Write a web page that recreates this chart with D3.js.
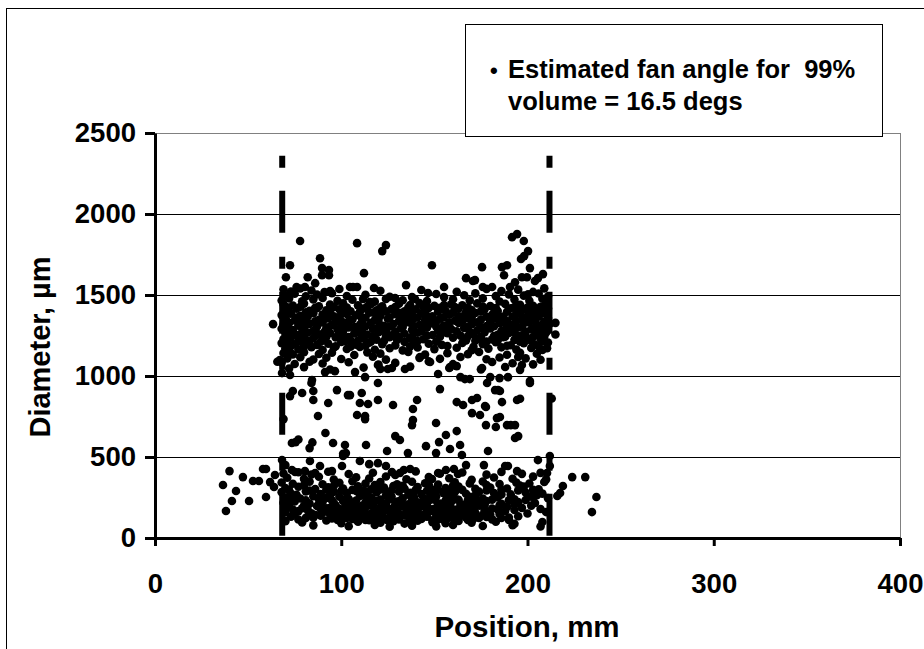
<!DOCTYPE html>
<html><head><meta charset="utf-8">
<script src="https://cdn.jsdelivr.net/npm/d3@7"></script>
<style>body{margin:0;background:#fff}svg{display:block}</style>
</head><body><svg id="c" width="924" height="649"></svg>
<script>
const xTicks=[0,100,200,300,400];
const yTicks=[0,500,1000,1500,2000,2500];
const xTitle="Position, mm";
const yTitle="Diameter, µm";
const legendLines=["Estimated fan angle for  99%","volume = 16.5 degs"];
const fanLimits=[68.3,211.8];
const fanLineTop=2360;

const highDrops=[[77.9,1833],[88.6,1727],[72.5,1684],[70.3,1610],[89.7,1666],[89.7,1622],[93.4,1654],[93.4,1622],[82,1610],[86,1573],[76,1549],[80.5,1549],[94,1524],[104.7,1549],
[108.5,1820],[124,1808],[122,1771],[148.7,1684],[112.2,1635],[167,1604],[170.7,1586],[106.3,1549],[108.5,1549],[117.6,1543],[134.8,1561],[155.2,1549],[146.6,1512],[155.2,1487],[155.2,1438],[111.7,1475],[115.4,1456],[128.9,1481],[138,1487],[139.6,1475],
[191.7,1857],[194.4,1876],[198,1833],[200.3,1771],[198.2,1740],[196.5,1722],[189,1684],[186.3,1672],[175.6,1672],[201.3,1666],[187.4,1622],[197,1610],[199.7,1610],[193.3,1579],[190.6,1549],[208.3,1629],[205.6,1604],[204,1586],[171.8,1592],[176,1549],[181,1549],[200.3,1505]];

const upperBand=[[69,1535],[73,1522],[78,1540],[84,1528],[91,1518],[99,1537],[121,1526],[143,1531],[162,1520],[178,1538],[186,1525],[195,1533],[203,1519],[209,1541],
[70,1497],[75,1508],[81,1492],[87,1503],[95,1511],[103,1494],[113,1502],[126,1489],[151,1506],[166,1498],[172,1510],[183,1493],[190,1504],[198,1496],[206,1509],[211,1490],
[68,1466],[72,1478],[79,1461],[85,1473],[90,1482],[98,1464],[106,1471],[118,1459],[124,1476],[133,1468],[146,1462],[160,1474],[169,1467],[176,1479],[185,1460],[193,1472],[201,1465],[208,1477],
[69,1443],[74,1435],[80,1447],[88,1431],[94,1441],[101,1449],[109,1436],[116,1444],[122,1430],[131,1446],[137,1438],[142,1450],[150,1433],[159,1442],[165,1437],[173,1448],[180,1432],[188,1445],[196,1439],[203,1434],[210,1446],
[71,1424],[78,1427],[86,1421],[96,1426],[103,1423],[114,1428],[121,1420],[129,1425],[136,1422],[144,1427],[153,1421],[161,1426],[168,1423],[176,1428],[183,1420],[193,1425],[200,1422],[207,1427],
[70,1408],[76,1415],[83,1402],[87,1419],[92,1405],[99,1412],[105,1400],[112,1417],[119,1406],[127,1414],[134,1399],[140,1411],[147,1420],[156,1403],[163,1416],[170,1407],[177,1413],[184,1401],[191,1418],[199,1409],[205,1404],[211,1416],
[72,1396],[81,1393],[94,1398],[101,1391],[110,1397],[117,1392],[124,1399],[131,1390],[138,1396],[145,1393],[152,1398],[160,1391],[167,1395],[175,1399],[182,1392],[189,1397],[196,1394],[203,1390],[209,1398],
[68,1376],[73,1385],[78,1372],[85,1388],[90,1379],[96,1369],[103,1383],[108,1375],[115,1390],[121,1371],[129,1382],[136,1377],[143,1386],[149,1368],[158,1380],[166,1373],[172,1389],[181,1378],[187,1367],[194,1384],[201,1374],[208,1387],
[70,1364],[76,1361],[82,1367],[92,1362],[99,1366],[111,1360],[119,1365],[126,1362],[133,1367],[141,1361],[147,1366],[155,1363],[163,1368],[170,1361],[178,1366],[185,1362],[192,1367],[199,1363],[206,1366],
[70,1352],[75,1343],[81,1358],[88,1347],[93,1355],[100,1341],[106,1349],[113,1360],[118,1344],[125,1353],[131,1340],[139,1357],[145,1346],[153,1354],[161,1342],[168,1359],[175,1348],[183,1356],[189,1339],[197,1351],[204,1345],[211,1358],
[71,1336],[79,1331],[86,1338],[97,1333],[104,1337],[111,1330],[120,1339],[133,1334],[137,1329],[151,1337],[158,1332],[165,1338],[173,1331],[180,1336],[187,1330],[194,1339],[201,1333],[209,1336],
[69,1318],[72,1327],[77,1311],[83,1322],[90,1330],[95,1314],[102,1325],[110,1316],[116,1329],[123,1310],[128,1321],[135,1332],[142,1315],[148,1324],[155,1312],[163,1328],[170,1319],[178,1308],[185,1326],[192,1317],[199,1331],[206,1313],[212,1323],
[71,1304],[79,1301],[87,1306],[93,1300],[100,1305],[107,1302],[113,1307],[120,1301],[126,1306],[133,1303],[139,1308],[145,1302],[151,1305],[158,1300],[168,1306],[175,1302],[182,1307],[190,1301],[197,1304],[204,1300],[210,1306],
[68,1292],[74,1284],[80,1297],[86,1281],[92,1295],[98,1287],[104,1299],[111,1283],[117,1291],[124,1279],[132,1294],[138,1286],[146,1298],[152,1280],[159,1290],[166,1296],[173,1282],[180,1293],[188,1285],[195,1300],[202,1288],[209,1283],
[73,1276],[79,1271],[85,1278],[91,1273],[101,1277],[108,1272],[121,1279],[129,1274],[143,1277],[155,1270],[162,1276],[169,1273],[186,1278],[193,1271],[199,1275],[207,1279],
[70,1262],[76,1254],[82,1268],[88,1257],[94,1265],[101,1250],[107,1263],[114,1256],[120,1270],[127,1252],[134,1261],[141,1267],[149,1253],[157,1264],[164,1249],[171,1259],[177,1271],[184,1255],[190,1266],[197,1251],[205,1260],[210,1269],
[72,1244],[80,1241],[86,1247],[92,1242],[98,1246],[104,1240],[111,1245],[117,1242],[124,1247],[131,1241],[138,1244],[146,1248],[153,1242],[168,1245],[175,1240],[182,1246],[188,1243],[195,1247],[203,1241],[209,1244],
[69,1228],[73,1236],[79,1221],[85,1233],[91,1225],[97,1238],[105,1219],[112,1231],[119,1224],[126,1239],[130,1222],[137,1234],[144,1227],[160,1237],[167,1220],[174,1232],[181,1226],[187,1240],[193,1223],[200,1235],[207,1229],
[71,1216],[77,1212],[83,1218],[89,1211],[102,1215],[109,1219],[116,1213],[123,1217],[134,1210],[141,1216],[151,1212],[172,1218],[178,1213],[184,1219],[196,1211],[202,1216],[209,1213],
[68,1203],[75,1195],[81,1208],[87,1191],[93,1200],[100,1210],[108,1193],[115,1205],[122,1197],[129,1189],[139,1206],[147,1199],[154,1192],[165,1204],[176,1196],[183,1209],[191,1190],[198,1202],[204,1194],[211,1207],
[73,1186],[80,1182],[97,1184],[105,1181],[113,1187],[137,1183],[157,1185],[171,1181],[189,1187],[206,1183],
[70,1172],[77,1164],[84,1178],[90,1160],[96,1175],[103,1167],[110,1180],[118,1162],[126,1171],[133,1158],[141,1176],[150,1166],[162,1174],[170,1159],[179,1169],[186,1177],[194,1163],[202,1173],[208,1161],
[69,1142],[74,1133],[80,1147],[88,1136],[95,1144],[107,1130],[114,1146],[121,1138],[136,1149],[145,1132],[157,1141],[168,1135],[174,1148],[189,1131],[196,1143],[205,1137],
[71,1108],[78,1116],[85,1102],[92,1113],[100,1105],[117,1119],[124,1101],[142,1112],[153,1106],[164,1117],[178,1103],[185,1114],[199,1109],[207,1100],
[68,1083],[75,1074],[83,1088],[90,1077],[104,1085],[120,1070],[129,1081],[147,1090],[160,1073],[181,1086],[192,1079],[203,1072],
[72,1046],[80,1055],[94,1040],[112,1052],[125,1043],[137,1058],[158,1049],[175,1041],[188,1056],[196,1038],
[67,1098],[72.5,1148],[68.2,1018],[72.5,1006],[84.3,975],[91.3,1024],[96.6,1030],[127.2,1049],[134.2,1043],[107.4,1024],[112.8,993],[119.7,1068],[121,1043],[152,1012],[164,993],[166.4,981],[169,981],[158.4,1055],[162,1061],[142.3,1117],[147.7,1086],[175.6,1049],[180,993],[185,987],[189.5,993],[201.3,969],[195,1117],[197,1068],[65.7,1088],[210.5,1172]];

const midScatter=[[74,907],[79,895],[72.5,876],[85,907],[85,852],[84,957],[93,833],[97.7,913],[103.6,882],[69,734],[87.5,753],[91.5,648],[73.5,586],[77,608],[75.5,592],[84.5,590],[83,555],[95.6,586],[102,574],[101,520],
[111,895],[110,833],[114.4,827],[119.7,852],[108.5,759],[112.8,753],[112.8,734],[104.7,882],[119.7,957],[127.8,821],[140.7,852],[138.5,796],[138.5,728],[138,697],[153,919],[162,839],[165.4,821],[170.2,852],[170.2,771],[150.9,710],[129,629],[131.5,605],[113.3,574],[124.6,537],[135.8,524],[145.5,567],[152.5,592],[150.9,524],[156.2,636],[158.4,549],[162,660],[163.8,574],[164.8,512],
[172.9,864],[174.5,759],[177.7,809],[186.3,839],[182.6,913],[184.2,913],[194.4,852],[196,860],[183.6,740],[185.2,747],[177.7,697],[183,685],[189,697],[191,697],[193.3,697],[193.3,617],[195,629],[201.3,957],[178.3,957],[185.2,907],[177.2,815],[178.8,537]];

const lowerBand=[[69,398],[77,406],[84,392],[93,409],[104,395],[117,403],[129,389],[140,411],[153,397],[165,404],[178,391],[186,408],[197,396],[207,402],
[71,372],[80,365],[88,378],[96,361],[108,374],[115,367],[124,380],[135,363],[147,376],[158,369],[170,359],[182,373],[192,366],[203,379],[210,362],
[68,343],[74,335],[83,348],[90,332],[99,341],[106,350],[113,336],[121,345],[130,331],[138,347],[145,338],[152,330],[161,344],[169,337],[176,349],[185,333],[194,342],[201,336],[209,346],
[80,326],[96,323],[118,327],[133,322],[147,328],[160,324],[178,327],[196,323],
[70,308],[77,316],[86,302],[93,313],[101,305],[109,319],[116,300],[123,311],[128,321],[134,304],[141,314],[149,299],[156,309],[163,318],[172,303],[180,312],[189,306],[198,317],[206,301],
[72,296],[83,293],[92,298],[100,292],[106,297],[112,294],[121,299],[127,293],[140,297],[146,292],[152,298],[158,294],[165,297],[178,293],[186,298],[195,294],[203,297],
[68,283],[73,275],[81,288],[89,272],[96,285],[103,277],[108,290],[114,270],[119,282],[125,274],[131,287],[137,279],[143,271],[149,289],[155,276],[161,284],[167,273],[174,286],[182,278],[191,269],[199,281],[208,274],
[76,266],[94,262],[112,268],[124,263],[136,267],[148,262],[160,266],[172,263],[186,268],[205,264],
[71,252],[78,244],[85,258],[92,247],[99,255],[104,241],[110,259],[116,249],[121,238],[127,256],[133,245],[139,253],[145,240],[151,257],[157,248],[163,236],[169,254],[176,243],[184,251],[193,239],[202,255],[211,246],
[73,236],[81,232],[88,238],[95,233],[102,237],[108,231],[114,236],[120,230],[126,239],[132,233],[138,237],[144,231],[150,236],[156,232],[162,238],[168,234],[174,230],[181,237],[190,233],[199,235],
[69,218],[75,226],[83,212],[90,224],[96,215],[101,229],[107,210],[113,221],[118,231],[124,214],[130,225],[136,208],[141,220],[147,230],[153,213],[159,223],[165,207],[171,219],[178,228],[186,211],[195,222],[204,216],
[71,204],[80,200],[89,207],[97,202],[103,206],[111,199],[117,205],[123,201],[129,207],[135,200],[140,204],[146,198],[152,206],[158,201],[164,205],[170,199],[177,204],[185,202],[193,207],[202,200],
[72,193],[79,184],[87,198],[94,187],[99,180],[105,195],[110,183],[116,199],[121,188],[127,178],[133,194],[138,185],[144,197],[150,181],[156,191],[162,176],[168,189],[174,200],[181,182],[189,192],[197,186],[207,179],
[92,184],[102,186],[113,189],[125,185],[136,188],[147,184],[159,187],[171,185],
[74,176],[82,172],[89,178],[96,170],[102,175],[107,171],[112,177],[118,173],[124,179],[130,171],[135,176],[141,172],[147,178],[153,170],[159,175],[165,172],[171,177],[177,171],[184,176],[193,173],
[70,158],[77,166],[84,152],[91,163],[97,149],[103,168],[108,155],[114,146],[119,161],[125,170],[131,150],[136,159],[142,144],[148,165],[154,153],[160,148],[166,162],[172,156],[180,145],[188,167],[200,151],[210,160],
[75,146],[86,142],[94,148],[100,143],[105,146],[111,141],[116,149],[122,143],[128,147],[133,140],[139,145],[145,149],[151,142],[157,146],[163,140],[169,147],[176,143],[185,148],
[73,132],[81,124],[89,137],[95,121],[101,135],[106,118],[112,129],[117,140],[123,116],[129,127],[135,138],[140,120],[146,131],[152,114],[158,126],[164,136],[171,119],[178,130],[186,123],[195,134],
[85,126],[103,123],[109,128],[115,124],[126,129],[138,125],[143,122],[155,128],[161,123],[167,127],[174,124],[190,127],
[77,114],[98,112],[107,117],[113,111],[119,116],[125,110],[131,115],[137,112],[143,117],[149,110],[155,114],[161,118],[168,111],[181,115],[190,112],
[70,104],[79,96],[92,108],[100,92],[109,101],[115,110],[121,94],[128,103],[134,89],[141,107],[149,97],[156,91],[163,105],[170,95],[183,100],[193,88],[208,99],
[85,78],[104,73],[118,80],[126,70],[138,76],[151,72],[160,81],[176,74],[192,79],[207,71],
[110,475],[115,456],[119.7,462],[124,444],[127.2,407],[131.5,401],[133.6,420],[137,426],[148.7,364],[152,401],[156.2,420],[160.5,426],[162.7,395],[167,450],[176.6,450],[188,444],[189.5,444],[194.4,413],[205.6,481],[212,506],[212,444],[210.5,401],[68.2,481],[70,450],[73.5,420],[75.2,407],[80.5,413],[86,401],[88.6,444],[83.2,475],[95,413],[100.4,444],[101,506],[102.5,524]];

const outsideLeft=[[40,413],[36.5,327],[43.5,290],[41.3,228],[38.1,167],[47.2,376],[52.6,352],[55.8,352],[58,426],[59.6,426],[50.5,228],[59.6,253],[61.8,345],[63.9,315],[64.4,389],[63.4,1320]];
const outsideRight=[[224,376],[231,376],[237,253],[234.6,160],[219,321],[217.5,278],[216,259],[213,861],[215,1328],[215,1256]];

const svg=d3.select("#c");
const FONT='"Liberation Sans", Arial, sans-serif';
const x=d3.scaleLinear().domain([0,400]).range([155,900]);
const y=d3.scaleLinear().domain([0,2500]).range([538,133]);

svg.append("rect").attr("x",6.5).attr("y",8.5).attr("width",940).attr("height",660)
  .attr("fill","none").attr("stroke","#000").attr("stroke-width",1);

svg.append("g").selectAll("line").data(yTicks.filter(t=>t>0)).join("line")
  .attr("x1",x(0)).attr("x2",x(400)).attr("y1",d=>Math.round(y(d))+0.5).attr("y2",d=>Math.round(y(d))+0.5)
  .attr("stroke",d=>d===2500?"#808080":"#000").attr("stroke-width",1);
svg.append("line").attr("x1",x(400)+0.5).attr("x2",x(400)+0.5).attr("y1",y(2500)).attr("y2",y(0))
  .attr("stroke","#808080").attr("stroke-width",1);

const allDrops=[].concat(highDrops,upperBand,midScatter,lowerBand,outsideLeft,outsideRight);
svg.append("g").selectAll("circle").data(allDrops).join("circle")
  .attr("cx",d=>x(d[0])).attr("cy",d=>y(d[1])).attr("r",4.3).attr("fill","#000");

svg.append("g").selectAll("line").data(fanLimits).join("line")
  .attr("x1",d=>x(d)).attr("x2",d=>x(d)).attr("y1",y(fanLineTop)).attr("y2",y(0))
  .attr("stroke","#000").attr("stroke-width",6).attr("stroke-dasharray","12,23,42,24");

const yAxis=svg.append("g").attr("transform",`translate(${x(0)},0)`)
  .call(d3.axisLeft(y).tickValues(yTicks).tickSize(10).tickSizeOuter(0).tickPadding(9).tickFormat(d3.format("d")));
const xAxis=svg.append("g").attr("transform",`translate(0,${y(0)})`)
  .call(d3.axisBottom(x).tickValues(xTicks).tickSize(8).tickSizeOuter(0).tickPadding(27).tickFormat(d3.format("d")));
[yAxis,xAxis].forEach(a=>{
  a.select(".domain").attr("stroke","#000").attr("stroke-width",3);
  a.selectAll(".tick line").attr("stroke","#000").attr("stroke-width",3);
  a.selectAll(".tick text").attr("fill","#000").attr("font-family",FONT).attr("font-weight","bold").attr("font-size",27.5);
});

svg.append("text").attr("x",527).attr("y",637).attr("text-anchor","middle")
  .attr("font-family",FONT).attr("font-weight","bold").attr("font-size",29.5).text(xTitle);
svg.append("text").attr("transform","translate(50,347) rotate(-90)").attr("text-anchor","middle")
  .attr("font-family",FONT).attr("font-weight","bold").attr("font-size",29).text(yTitle);

const lg=svg.append("g");
lg.append("rect").attr("x",465.5).attr("y",24.5).attr("width",417).attr("height",112)
  .attr("fill","#fff").attr("stroke","#000").attr("stroke-width",1);
lg.append("text").attr("x",490).attr("y",78).attr("font-family",FONT).attr("font-weight","bold").attr("font-size",22).text("•");
lg.selectAll("text.l").data(legendLines).join("text").attr("class","l")
  .attr("x",508).attr("y",(d,i)=>78+i*32).attr("font-family",FONT).attr("font-weight","bold").attr("font-size",25.5)
  .style("white-space","pre").text(d=>d);
</script></body></html>
